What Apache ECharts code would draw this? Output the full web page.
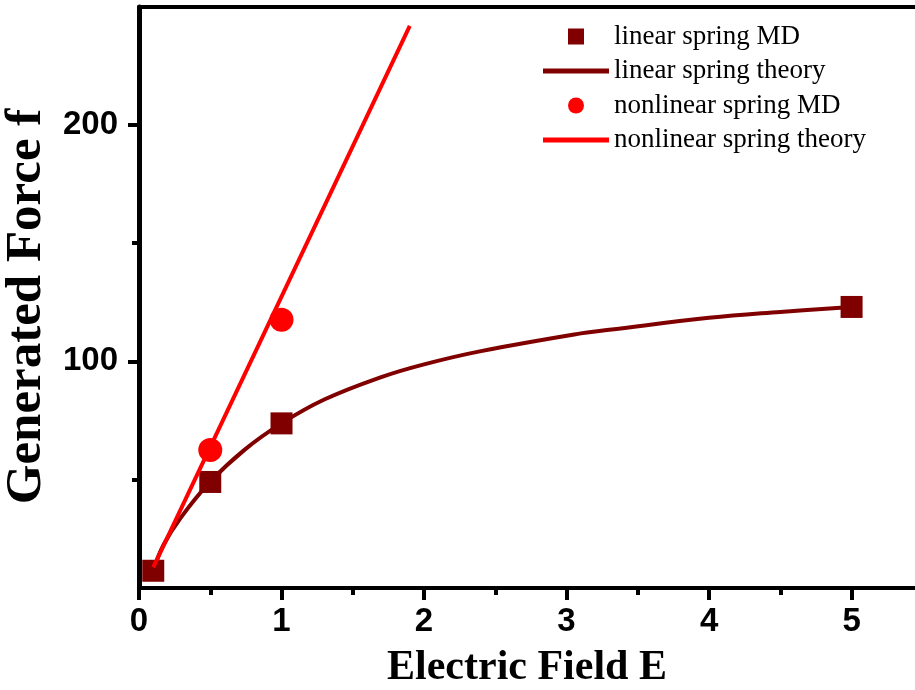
<!DOCTYPE html>
<html>
<head>
<meta charset="utf-8">
<script src="https://cdn.jsdelivr.net/npm/echarts@6/dist/echarts.min.js"></script>
<style>
html,body{margin:0;padding:0;background:#fff;}
#chart{width:915px;height:690px;}
</style>
</head>
<body>
<div id="chart"></div>
<script>
// ---- data ----
const xTickLabels = [0, 1, 2, 3, 4, 5];
const xMinorTicks = [0.5, 1.5, 2.5, 3.5, 4.5];
const yTickLabels = [100, 200];
const yMinorTicks = [50, 150];

const linearMD = [[0.1, 11.3], [0.5, 48.9], [1, 73.7], [5, 123]];
const linearTheory = [
  [0.1, 11.3], [0.17, 22], [0.29, 33.5], [0.5, 49], [0.74, 62.5], [1, 73.7],
  [1.3, 83.8], [1.7, 93.3], [2, 98.7], [2.4, 104.3], [3.1, 111.8], [3.3, 113.3],
  [4, 118.4], [4.5, 120.9], [5, 123]
];
const nonlinearMD = [[0.5, 62.4], [1, 117.6]];
const nonlinearTheory = [[0.1, 12.7], [1.9, 242]];

const seriesNames = ['linear spring MD', 'linear spring theory', 'nonlinear spring MD', 'nonlinear spring theory'];

// ---- chart ----
const X_MIN = 0, X_MAX = 5.445, Y_MIN = 4, Y_MAX = 250;
const DARK = '#800000', RED = '#ff0000';
const SQUARE_ICON = 'path://M0,0 L10,0 L10,10 L0,10 Z';
const LINE_ICON = 'path://M0,0 L66,0 L66,5 L0,5 Z';
const chart = echarts.init(document.getElementById('chart'));

const hidden = {show: false};
chart.setOption({
  animation: false,
  backgroundColor: '#ffffff',
  grid: {left: 139, right: 0, top: 7, bottom: 102, containLabel: false, outerBoundsMode: 'none'},
  legend: {
    data: [
      {name: seriesNames[0], icon: SQUARE_ICON},
      {name: seriesNames[1], icon: LINE_ICON},
      {name: seriesNames[2], icon: 'circle'},
      {name: seriesNames[3], icon: LINE_ICON}
    ],
    orient: 'vertical',
    left: 543,
    top: 23,
    padding: 0,
    itemWidth: 66,
    itemHeight: 16,
    itemGap: 7.5,
    symbolKeepAspect: true,
    textStyle: {fontFamily: 'Liberation Serif', fontSize: 27, color: '#000', lineHeight: 27}
  },
  xAxis: [
    {
      type: 'value', position: 'bottom', min: X_MIN, max: X_MAX,
      name: 'Electric Field E', nameLocation: 'middle', nameGap: 59,
      nameTextStyle: {fontFamily: 'Liberation Serif', fontWeight: 'bold', fontSize: 42, color: '#000'},
      axisLine: {show: true, lineStyle: {color: '#000', width: 4}},
      axisTick: {show: true, inside: false, length: 12, customValues: xTickLabels, lineStyle: {color: '#000', width: 4}},
      axisLabel: {show: true, customValues: xTickLabels, margin: 17, fontFamily: 'Liberation Sans', fontWeight: 'bold', fontSize: 33, color: '#000'},
      splitLine: hidden
    },
    {
      type: 'value', position: 'bottom', min: X_MIN, max: X_MAX,
      axisLine: hidden,
      axisTick: {show: true, inside: false, length: 7, customValues: xMinorTicks, lineStyle: {color: '#000', width: 4}},
      axisLabel: hidden, splitLine: hidden
    },
    {
      type: 'value', position: 'top', min: X_MIN, max: X_MAX,
      axisLine: {show: true, lineStyle: {color: '#000', width: 4}},
      axisTick: hidden, axisLabel: hidden, splitLine: hidden
    }
  ],
  yAxis: [
    {
      type: 'value', position: 'left', min: Y_MIN, max: Y_MAX,
      name: 'Generated Force f', nameLocation: 'middle', nameGap: 82, nameRotate: 90,
      nameTextStyle: {fontFamily: 'Liberation Serif', fontWeight: 'bold', fontSize: 51, color: '#000', padding: [0, 18, 0, 0]},
      axisLine: {show: true, lineStyle: {color: '#000', width: 5}},
      axisTick: {show: true, inside: false, length: 11, customValues: yTickLabels, lineStyle: {color: '#000', width: 4}},
      axisLabel: {show: true, customValues: yTickLabels, margin: 21, fontFamily: 'Liberation Sans', fontWeight: 'bold', fontSize: 33, color: '#000'},
      splitLine: hidden
    },
    {
      type: 'value', position: 'left', min: Y_MIN, max: Y_MAX,
      axisLine: hidden,
      axisTick: {show: true, inside: false, length: 7, customValues: yMinorTicks, lineStyle: {color: '#000', width: 4}},
      axisLabel: hidden, splitLine: hidden
    }
  ],
  series: [
    {
      name: seriesNames[1], type: 'line', data: linearTheory,
      xAxisIndex: 0, yAxisIndex: 0,
      smooth: 0.4, symbol: 'none',
      lineStyle: {color: DARK, width: 4}, itemStyle: {color: DARK}, z: 2
    },
    {
      name: seriesNames[0], type: 'scatter', data: linearMD,
      xAxisIndex: 0, yAxisIndex: 0,
      symbol: 'rect', symbolSize: 22, itemStyle: {color: DARK, opacity: 1}, z: 3
    },
    {
      name: seriesNames[2], type: 'scatter', data: nonlinearMD,
      xAxisIndex: 0, yAxisIndex: 0,
      symbol: 'circle', symbolSize: 24, itemStyle: {color: RED, opacity: 1}, z: 3
    },
    {
      name: seriesNames[3], type: 'line', data: nonlinearTheory,
      xAxisIndex: 0, yAxisIndex: 0,
      symbol: 'none',
      lineStyle: {color: RED, width: 4}, itemStyle: {color: RED}, z: 4
    }
  ]
});
</script>
</body>
</html>
